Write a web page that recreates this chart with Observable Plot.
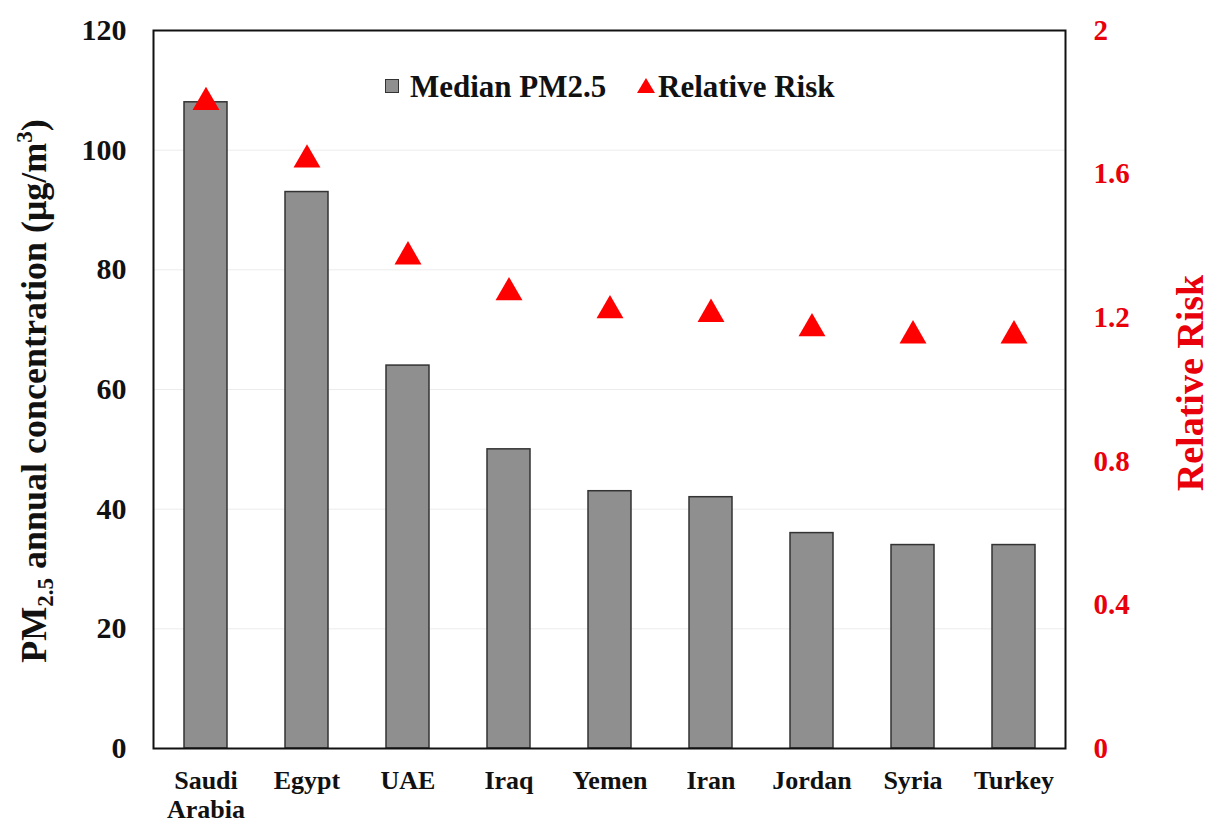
<!DOCTYPE html>
<html><head><meta charset="utf-8">
<script src="https://cdn.jsdelivr.net/npm/d3@7"></script>
<script src="https://cdn.jsdelivr.net/npm/@observablehq/plot@0.6"></script>
<style>
body{margin:0;background:#fff;}
#wrap{position:relative;width:1214px;height:825px;font-family:"Liberation Serif","Times New Roman",serif;font-weight:bold;}
.lg{position:absolute;white-space:nowrap;color:#111;font-size:31px;line-height:1;}
</style></head><body>
<div id="wrap">
</div>
<script>
const countries = ["Saudi Arabia","Egypt","UAE","Iraq","Yemen","Iran","Jordan","Syria","Turkey"];
const medianPM25 = [108,93,64,50,43,42,36,34,34];
const relativeRisk = [1.80,1.64,1.37,1.27,1.22,1.21,1.17,1.15,1.15];
const leftTicks = [0,20,40,60,80,100,120];
const rightTicks = [0,0.4,0.8,1.2,1.6,2];
const legendLabels = ["Median PM2.5","Relative Risk"];
const rrToPM = 60; // right axis 0–2 maps onto left axis 0–120

const data = countries.map((c,i)=>({country:c, pm:medianPM25[i], rr:relativeRisk[i]}));

const chart = Plot.plot({
  width:1214, height:825,
  marginLeft:153, marginRight:149, marginTop:30, marginBottom:77,
  style:{fontFamily:"'Liberation Serif','Times New Roman',serif", fontWeight:"bold", background:"#fff", overflow:"visible"},
  x:{domain:countries, paddingInner:0.575, paddingOuter:0.2875, label:null},
  y:{domain:[0,120], label:null},
  marks:[
    Plot.gridY(leftTicks, {stroke:"#ececec", strokeOpacity:1}),
    Plot.barY(data, {x:"country", y:"pm", fill:"#8f8f8f", stroke:"#333", strokeWidth:1.5}),
    Plot.dot(data, {x:"country", y:d=>d.rr*rrToPM, symbol:"triangle", r:10, fill:"#f00", stroke:"none"}),
    Plot.frame({stroke:"#111", strokeWidth:2}),
    Plot.axisY(leftTicks, {anchor:"left", tickSize:0, tickPadding:27, fontSize:30, fill:"#111", label:null}),
    Plot.axisY(rightTicks.map(v=>v*rrToPM), {anchor:"right", tickSize:0, tickPadding:28, fontSize:29, fill:"#e8000b", tickFormat:v=>String(+(v/rrToPM).toFixed(1)), label:null}),
    Plot.axisX({anchor:"bottom", tickSize:0, tickPadding:20, fontSize:26, lineHeight:1.12, fill:"#111", tickFormat:d=>d.replace(" ","\n"), label:null})
  ]
});

const svg = d3.select(chart);
// left axis title with subscript and superscript
const yl = svg.append("text")
  .attr("transform","translate(46,391) rotate(-90)")
  .attr("text-anchor","middle").attr("font-size",36).attr("fill","#111");
yl.append("tspan").text("PM");
yl.append("tspan").attr("font-size",23).attr("dy",7).text("2.5");
yl.append("tspan").attr("dy",-7).text(" annual concentration (μg/m");
yl.append("tspan").attr("font-size",23).attr("dy",-14).text("3");
yl.append("tspan").attr("dy",14).text(")");
// right axis title
svg.append("text")
  .attr("transform","translate(1203,383) rotate(-90)")
  .attr("text-anchor","middle").attr("font-size",38).attr("fill","#e8000b")
  .text("Relative Risk");

const wrap = document.getElementById("wrap");
wrap.appendChild(chart);

// legend
const sq = document.createElement("div");
sq.style.cssText = "position:absolute;left:385px;top:79px;width:12px;height:12px;background:#8f8f8f;border:1.5px solid #333;";
wrap.appendChild(sq);
const t1 = document.createElement("div");
t1.className = "lg"; t1.style.left = "410px"; t1.style.top = "71px"; t1.textContent = legendLabels[0];
wrap.appendChild(t1);
const tri = document.createElementNS("http://www.w3.org/2000/svg","svg");
tri.setAttribute("width","20"); tri.setAttribute("height","16");
tri.style.cssText = "position:absolute;left:636px;top:78px;";
tri.innerHTML = '<polygon points="10,0 19,15 1,15" fill="#f00"/>';
wrap.appendChild(tri);
const t2 = document.createElement("div");
t2.className = "lg"; t2.style.left = "658px"; t2.style.top = "71px"; t2.textContent = legendLabels[1];
wrap.appendChild(t2);
</script>
</body></html>
